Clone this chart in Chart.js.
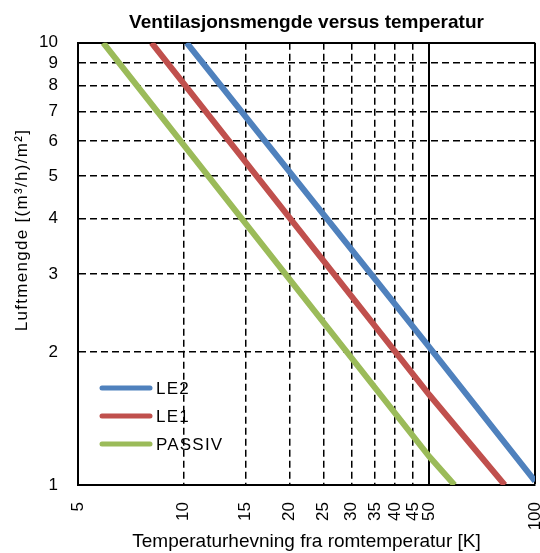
<!DOCTYPE html>
<html>
<head>
<meta charset="utf-8">
<script src="https://cdn.jsdelivr.net/npm/chart.js@4/dist/chart.umd.min.js"></script>
<style>
html,body{margin:0;padding:0;background:#fff;}
#wrap{width:540px;height:553px;position:relative;}
</style>
</head>
<body>
<div id="wrap"><canvas id="c"></canvas></div>
<script>
// ---- data ----
const seriesNames = ['LE2', 'LE1', 'PASSIV'];
const le2X = [10.2, 50, 100];
const le2Y = [10, 2.05, 1.02];
const le1X = [8.1, 50, 82];
const le1Y = [10, 1.6, 1];
const passivX = [5.9, 50, 59];
const passivY = [10, 1.16, 1];
const xTickValues = [5, 10, 15, 20, 25, 30, 35, 40, 45, 50, 100];
const yTickValues = [1, 2, 3, 4, 5, 6, 7, 8, 9, 10];
const titleText = 'Ventilasjonsmengde versus temperatur';
const xTitleText = 'Temperaturhevning fra romtemperatur [K]';
const yTitleText = 'Luftmengde [(m³/h)/m²]';
const colors = ['#4F81BD', '#C0504D', '#9BBB59'];

const FONT = "'Liberation Sans', Arial, sans-serif";
function pts(xs, ys){ return xs.map((x,i)=>({x:x, y:ys[i]})); }

const legendPlugin = {
  id: 'insideLegend',
  afterDraw(chart){
    const ctx = chart.ctx;
    ctx.save();
    chart.data.datasets.forEach((ds,i)=>{
      const y = 388 + i*28;
      ctx.strokeStyle = ds.borderColor;
      ctx.lineWidth = 5;
      ctx.lineCap = 'round';
      ctx.beginPath(); ctx.moveTo(102, y); ctx.lineTo(150, y); ctx.stroke();
      ctx.fillStyle = '#000';
      ctx.font = '17px ' + FONT;
      ctx.letterSpacing = '1.2px';
      ctx.textBaseline = 'middle';
      ctx.textAlign = 'left';
      ctx.fillText(ds.label, 156, y+1);
      ctx.letterSpacing = '0px';
    });
    ctx.restore();
  }
};
const yTitlePlugin = {
  id: 'yTitle',
  afterDraw(chart){
    const ctx = chart.ctx;
    ctx.save();
    ctx.translate(22, 230);
    ctx.rotate(-Math.PI/2);
    ctx.fillStyle = '#000';
    ctx.font = '17px ' + FONT;
    ctx.letterSpacing = '1.3px';
    ctx.textAlign = 'center';
    ctx.textBaseline = 'middle';
    ctx.fillText(yTitleText, 0, 0);
    ctx.letterSpacing = '0px';
    ctx.restore();
  }
};

function dashFor(extremes){
  return function(ctx){
    if (!ctx.tick) return [];
    const v = ctx.tick.value;
    return extremes.includes(v) ? [] : [7,4];
  };
}

new Chart(document.getElementById('c'), {
  type: 'line',
  data: {
    datasets: [
      {label: seriesNames[0], data: pts(le2X, le2Y), borderColor: colors[0]},
      {label: seriesNames[1], data: pts(le1X, le1Y), borderColor: colors[1]},
      {label: seriesNames[2], data: pts(passivX, passivY), borderColor: colors[2]}
    ].map(d=>Object.assign(d, {borderWidth: 6, pointRadius: 0, fill: false, tension: 0, clip: 0, borderCapStyle: 'butt'}))
  },
  options: {
    responsive: true,
    maintainAspectRatio: false,
    animation: false,
    layout: {padding: {left: 0, right: 5, top: 0, bottom: 0}},
    plugins: {
      legend: {display: false},
      tooltip: {enabled: false},
      title: {
        display: true, text: titleText, color: '#000', fullSize: false,
        font: {family: FONT, size: 19, weight: 'bold'},
        padding: {top: 11, bottom: 9}
      }
    },
    scales: {
      x: {
        type: 'logarithmic', min: 5, max: 100,
        afterBuildTicks(s){ s.ticks = xTickValues.map(v=>({value: v})); },
        afterFit(s){ s.height = 68; s.paddingLeft = 0; s.paddingRight = 0; },
        ticks: {
          autoSkip: false, minRotation: 90, maxRotation: 90, padding: 17,
          color: '#000', font: {family: FONT, size: 17},
          callback: (v)=>String(v)
        },
        grid: {
          drawTicks: false,
          color: '#000',
          lineWidth: (c)=> (c.tick && (c.tick.value===50 || c.tick.value===100)) ? 2 : 1.5
        },
        border: {display: true, color: '#000', width: 2, dash: dashFor([5, 50, 100])},
        title: {
          display: true, text: xTitleText, color: '#000',
          font: {family: FONT, size: 19}, padding: {top: 0, bottom: 0}
        }
      },
      y: {
        type: 'logarithmic', min: 1, max: 10,
        afterBuildTicks(s){ s.ticks = yTickValues.map(v=>({value: v})); },
        afterFit(s){ s.width = 78; s.paddingTop = 0; s.paddingBottom = 0; },
        ticks: {
          autoSkip: false, padding: 20, color: '#000',
          font: {family: FONT, size: 17},
          callback: (v)=>String(v)
        },
        grid: {
          drawTicks: false,
          color: '#000',
          lineWidth: (c)=> (c.tick && (c.tick.value===1 || c.tick.value===10)) ? 2 : 1.5
        },
        border: {display: true, color: '#000', width: 2, dash: dashFor([1, 10])},
        title: {display: false}
      }
    }
  },
  plugins: [legendPlugin, yTitlePlugin]
});
</script>
</body>
</html>
